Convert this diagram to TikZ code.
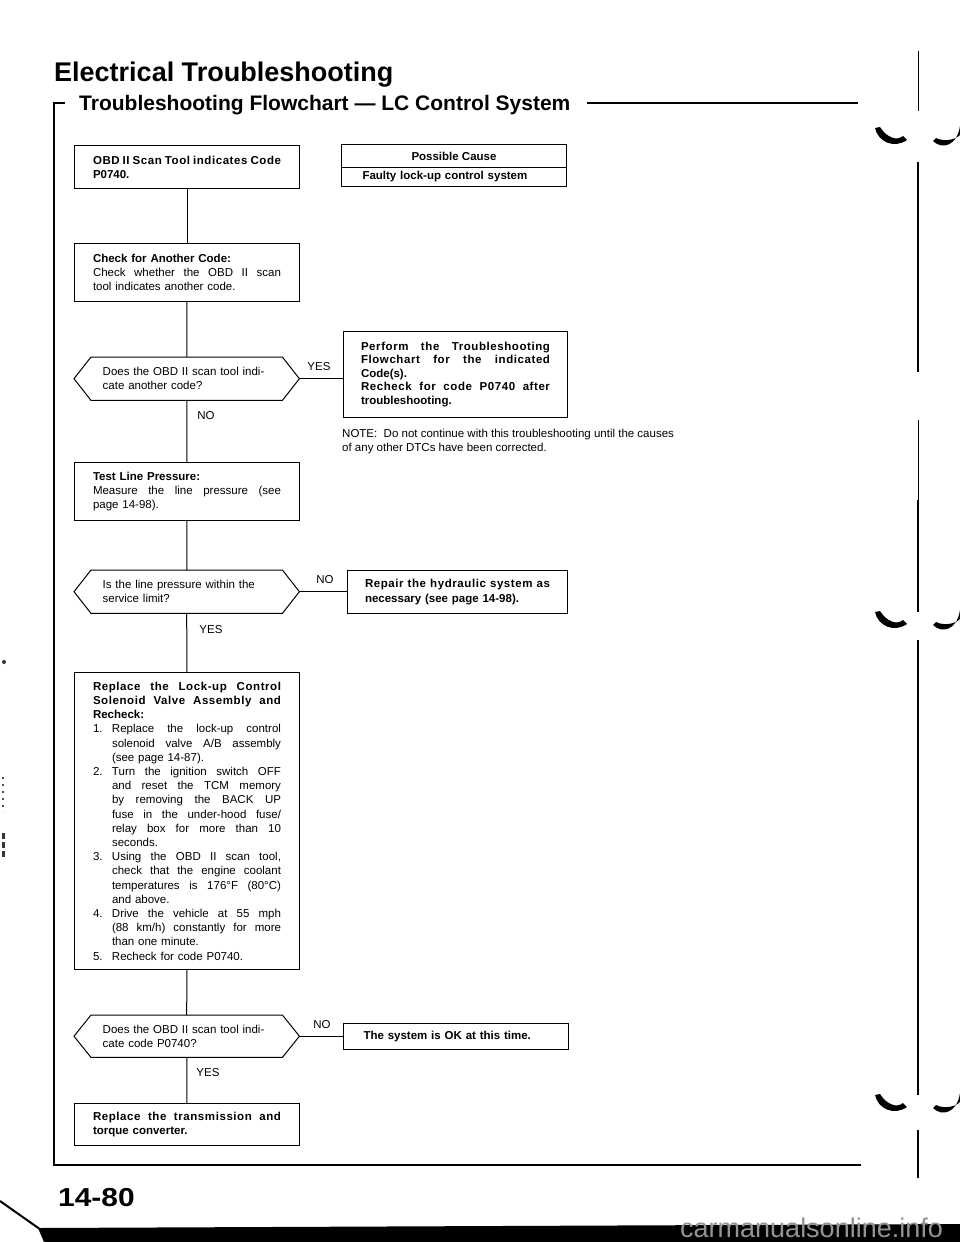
\documentclass[tikz,border=0pt]{standalone}
\usepackage{fontspec}
\setmainfont{Liberation Sans}
\newfontfamily\bfls{Liberation Sans Bold}[LetterSpace=5]
\usepackage{graphicx}
\newcommand\bodyfont{\fontsize{11.5}{14.2}\selectfont}
\newcommand\jline[2][188pt]{\makebox[#1][s]{\spaceskip=0pt\xspaceskip=0pt #2}}
\newcommand\jbold[2][188pt]{\makebox[#1][s]{\bfls\spaceskip=0pt\xspaceskip=0pt #2}}
\newcommand\nitem[2]{\makebox[19pt][l]{#1}\jline[169pt]{#2}}
\newcommand\ncont[1]{\hspace*{19pt}\jline[169pt]{#1}}
\newcommand\nlast[1]{\hspace*{19pt}#1}
\newcommand\hexa[1]{\draw[boxline] (#1.west) -- ([xshift=17pt]#1.north west) -- ([xshift=-17pt]#1.north east) -- (#1.east) -- ([xshift=-17pt]#1.south east) -- ([xshift=17pt]#1.south west) -- cycle;}
\newcommand\lmark[1]{\fill[black] (875,#1+2) .. controls (878,#1+16) and (894,#1+23) .. (907,#1+14) -- (903,#1+10) .. controls (897,#1+15) and (887,#1+12) .. (880,#1+1) -- cycle;}
\newcommand\rmark[1]{\fill[black] (933,#1+15) .. controls (942,#1+24) and (957,#1+20) .. (960,#1) -- (960,#1+9) .. controls (955,#1+14) and (944,#1+16) .. (936,#1+12) -- cycle;}
\tikzset{
  boxline/.style={draw=black, line width=1pt},
  fbox/.style={boxline, rectangle, anchor=north west, inner xsep=0pt, inner ysep=0pt, align=left, font=\bodyfont},
  hexnode/.style={rectangle, anchor=north west, inner sep=0pt, align=left, font=\bodyfont, minimum width=225pt, text width=168pt},
  lbl/.style={font=\bodyfont, inner sep=0pt},
  conn/.style={draw=black, line width=1pt},
}
\begin{document}
\begin{tikzpicture}[x=1pt,y=-1pt]
\fill[white] (0,0) rectangle (960,1242);
\useasboundingbox (0,0) rectangle (960,1242);

% headings
\node[anchor=base west, inner sep=0pt, font=\fontsize{27}{27}\selectfont\bfseries] (title) at (54,81) {Electrical Troubleshooting};
\node[anchor=base west, inner sep=0pt, font=\fontsize{21}{21}\selectfont\bfseries] (sub) at (79,110) {Troubleshooting Flowchart — LC Control System};
\draw[line width=1.6pt] (587,103) -- (858,103);
\draw[line width=2pt] (65,103) -- (54,103) -- (54,1165) -- (861,1165);

% possible cause table
\node[fbox, minimum width=225pt, minimum height=23pt, align=center] (cause) at (341,144) {\textbf{Possible Cause}};
\node[fbox, minimum width=225pt, minimum height=19pt, text width=183pt] (cause2) at (341,167) {\textbf{Faulty lock-up control system}};

% left column
\node[fbox, minimum width=225pt, minimum height=43pt, text width=188pt] (obd) at (74,145)
  {\jbold{OBD II Scan Tool indicates Code}\\\textbf{P0740.}};
\node[fbox, minimum width=225pt, minimum height=58pt, text width=188pt] (chk) at (74,243)
  {\textbf{Check for Another Code:}\\\jline{Check whether the OBD II scan}\\tool indicates another code.};
\node[hexnode, minimum height=43pt] (d1) at (74,357) {Does the OBD II scan tool indi-\\cate another code?};
\hexa{d1}
\node[fbox, minimum width=224pt, minimum height=86pt, text width=189pt] (perf) at (343,331)
  {\fontsize{11.5}{13.3}\selectfont\jbold[189pt]{Perform the Troubleshooting}\\\jbold[189pt]{Flowchart for the indicated}\\\textbf{Code(s).}\\\jbold[189pt]{Recheck for code P0740 after}\\\textbf{troubleshooting.}};
\node[lbl, anchor=base west] (note1) at (342,437) {NOTE:\ \ Do not continue with this troubleshooting until the causes};
\node[lbl, anchor=base west] (note2) at (342,451) {of any other DTCs have been corrected.};

\node[fbox, minimum width=225pt, minimum height=58pt, text width=188pt] (tl) at (74,462)
  {\textbf{Test Line Pressure:}\\\jline{Measure the line pressure (see}\\page 14-98).};
\node[hexnode, minimum height=43pt] (d2) at (74,570) {Is the line pressure within the\\service limit?};
\hexa{d2}
\node[fbox, minimum width=220pt, minimum height=43pt, text width=185pt] (rep) at (347,570)
  {\jbold[185pt]{Repair the hydraulic system as}\\\textbf{necessary (see page 14-98).}};

\node[fbox, minimum width=225pt, minimum height=297pt, text width=188pt] (repl) at (74,672)
  {\jbold{Replace the Lock-up Control}\\
   \jbold{Solenoid Valve Assembly and}\\
   \textbf{Recheck:}\\
   \nitem{1.}{Replace the lock-up control}\\
   \ncont{solenoid valve A/B assembly}\\
   \nlast{(see page 14-87).}\\
   \nitem{2.}{Turn the ignition switch OFF}\\
   \ncont{and reset the TCM memory}\\
   \ncont{by removing the BACK UP}\\
   \ncont{fuse in the under-hood fuse/}\\
   \ncont{relay box for more than 10}\\
   \nlast{seconds.}\\
   \nitem{3.}{Using the OBD II scan tool,}\\
   \ncont{check that the engine coolant}\\
   \ncont{temperatures is 176°F (80°C)}\\
   \nlast{and above.}\\
   \nitem{4.}{Drive the vehicle at 55 mph}\\
   \ncont{(88 km/h) constantly for more}\\
   \nlast{than one minute.}\\
   \makebox[19pt][l]{5.}Recheck for code P0740.};

\node[hexnode, minimum height=42pt] (d3) at (74,1015) {Does the OBD II scan tool indi-\\cate code P0740?};
\hexa{d3}
\node[fbox, minimum width=225pt, minimum height=26pt, text width=185pt] (ok) at (343,1023)
  {\textbf{The system is OK at this time.}};
\node[fbox, minimum width=225pt, minimum height=42pt, text width=188pt] (fin) at (74,1103)
  {\jbold{Replace the transmission and}\\\textbf{torque converter.}};

% connectors
\draw[conn] (obd) -- (chk);
\draw[conn] (chk) -- (d1);
\draw[conn] (d1.east) -- (perf.west |- d1.east);
\draw[conn] (d1) -- (tl);
\draw[conn] (tl) -- (d2);
\draw[conn] (d2.east) -- (rep.west |- d2.east);
\draw[conn] (d2) -- (repl);
\draw[conn] (repl) -- (d3);
\draw[conn] (d3.east) -- (ok.west |- d3.east);
\draw[conn] (d3) -- (fin);

% labels
\node[lbl] (y1) at (319,367) {YES};
\node[lbl] (n1) at (206,416) {NO};
\node[lbl] (n2) at (325,580) {NO};
\node[lbl] (y2) at (211,630) {YES};
\node[lbl] (n3) at (322,1025) {NO};
\node[lbl] (y3) at (208,1073) {YES};

% page number
\node[anchor=base west, inner sep=0pt] (pg) at (58,1206) {\scalebox{1.15}[1]{\fontsize{26}{26}\selectfont\bfseries 14-80}};

% scan artefacts at the right edge
\draw[line width=0.8pt] (918,51) -- (918,111);
\draw[line width=1.8pt] (918,162) -- (918,372);
\draw[line width=0.6pt] (918,420) -- (918,500);
\draw[line width=1.8pt] (918,500) -- (918,612);
\draw[line width=1.8pt] (918,640) -- (918,1095);
\draw[line width=1.2pt] (918,1130) -- (918,1178);
\lmark{126}\rmark{126}
\lmark{610}\rmark{610}
\lmark{1093}\rmark{1093}

% scan artefacts at the left edge
\fill[black!80] (4,662) circle (2pt);
\draw[black!70, line width=1.2pt, dash pattern=on 2pt off 5pt] (3,777) -- (3,812);
\draw[black!80, line width=3pt, dash pattern=on 6pt off 3pt] (3,833) -- (3,857);

% bottom edge
\draw[line width=2pt] (0,1201) -- (44,1232);
\fill[black] (38,1228) -- (960,1224) -- (960,1242) -- (44,1242) -- cycle;
\node[anchor=base west, inner sep=0pt, text=black!42, font=\fontsize{27}{27}\selectfont] (wm) at (680,1237) {carmanualsonline.info};
\end{tikzpicture}
\end{document}
